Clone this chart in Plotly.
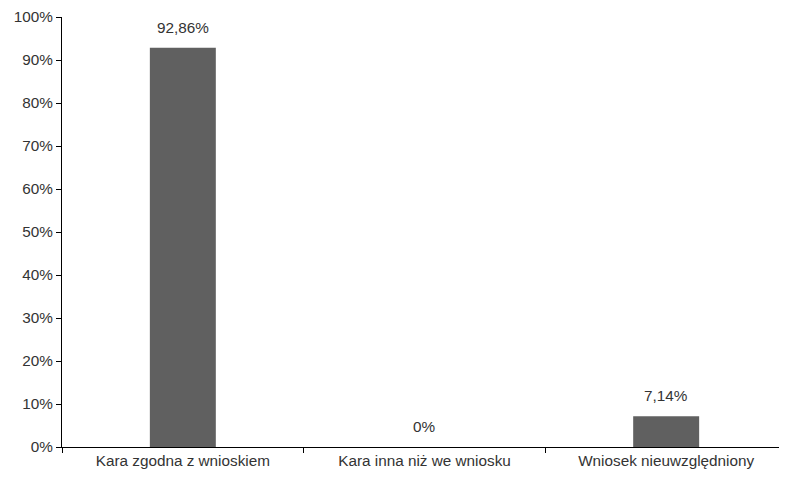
import plotly.graph_objects as go

categories = ["Kara zgodna z wnioskiem", "Kara inna niż we wniosku", "Wniosek nieuwzględniony"]
values = [92.86, 0, 7.14]
y_ticks = [0, 10, 20, 30, 40, 50, 60, 70, 80, 90, 100]
y_tick_labels = [f"{t}%" for t in y_ticks]


def fmt(v):
    if v == 0:
        return "0%"
    return f"{v:.2f}".replace(".", ",") + "%"


font_family = "Liberation Sans, Arial, sans-serif"
text_color = "#333333"
fsize = 15.3

fig = go.Figure()
fig.add_trace(go.Bar(
    x=categories,
    y=values,
    marker=dict(color="#606060", line=dict(width=0)),
    width=0.273,
    hoverinfo="skip",
))

for c, v in zip(categories, values):
    fig.add_annotation(
        x=c, y=v, text=fmt(v), showarrow=False,
        yanchor="bottom", yshift=10,
        font=dict(family=font_family, size=fsize, color=text_color),
    )

fig.update_layout(
    width=779, height=474,
    margin=dict(l=54, r=0, t=9, b=35, autoexpand=False),
    paper_bgcolor="white", plot_bgcolor="white",
    showlegend=False,
    font=dict(family=font_family, size=fsize, color=text_color),
    xaxis=dict(
        type="category",
        range=[-0.5, 2.5],
        automargin=False,
        showline=True, linecolor="black", linewidth=1,
        ticks="outside", tickson="boundaries", ticklen=5, tickcolor="black",
        showgrid=False, zeroline=False,
        tickfont=dict(family=font_family, size=fsize, color=text_color),
    ),
    yaxis=dict(
        range=[0, 100],
        automargin=False,
        tickvals=y_ticks, ticktext=y_tick_labels,
        showline=True, linecolor="black", linewidth=1,
        ticks="outside", ticklen=5, tickcolor="black",
        showgrid=False, zeroline=False,
        tickfont=dict(family=font_family, size=fsize, color=text_color),
    ),
)

fig.write_html("out.html")
